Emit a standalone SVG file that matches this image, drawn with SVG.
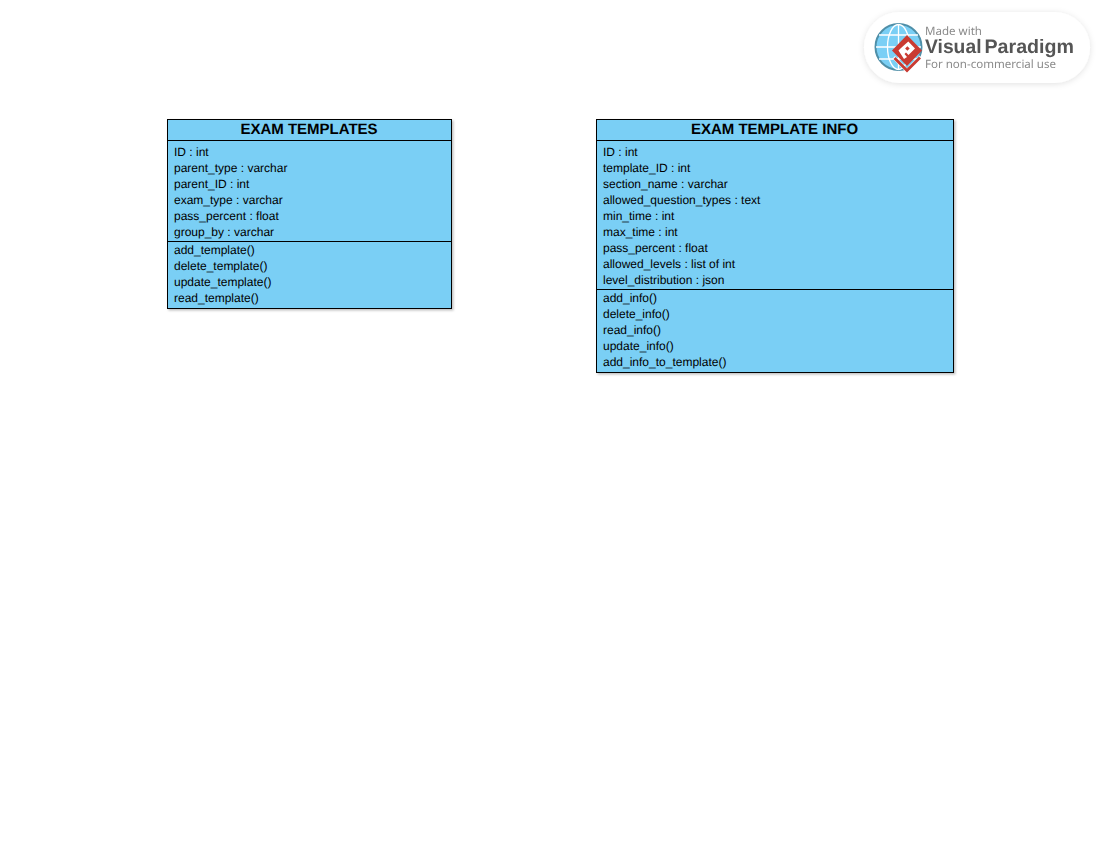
<svg xmlns="http://www.w3.org/2000/svg" width="1106" height="856" viewBox="0 0 1106 856">
<style>
text{font-family:"Liberation Sans",Arial,sans-serif;text-rendering:geometricPrecision}
.b{fill:#7acff5;stroke:#000;stroke-width:1;filter:url(#sh)}
.l{stroke:#000;stroke-width:1;fill:none}
.t{font-size:15px;font-weight:bold;text-anchor:middle;fill:#000}
.m{font-size:12px;fill:#000}
.w{font-family:"Noto Sans","Open Sans",sans-serif}
</style>
<defs>
<filter id="sh" x="-5%" y="-5%" width="110%" height="110%"><feDropShadow dx="1.500" dy="1.500" stdDeviation="1.200" flood-color="#000" flood-opacity=".25"/></filter>
<filter id="ps" x="-10%" y="-20%" width="120%" height="140%"><feDropShadow dx="0" dy="1" stdDeviation="3" flood-color="#000" flood-opacity=".12"/></filter>
<filter id="bl" x="-5%" y="-5%" width="110%" height="110%"><feGaussianBlur stdDeviation=".45"/></filter>
</defs>
<rect width="1106" height="856" fill="#fff"/>
<g id="connectors"/>
<g id="exam-templates">
<rect class="b" x="167.500" y="119.500" width="284" height="189"/>
<path class="l" d="M167.500 140.500H451.500M167.500 241.500H451.500"/>
<text class="t" x="309" y="134">EXAM TEMPLATES</text>
<g class="m">
<text x="174" y="156">ID : int</text>
<text x="174" y="172">parent_type : varchar</text>
<text x="174" y="188">parent_ID : int</text>
<text x="174" y="204">exam_type : varchar</text>
<text x="174" y="220">pass_percent : float</text>
<text x="174" y="236">group_by : varchar</text>
<text x="174" y="254">add_template()</text>
<text x="174" y="270">delete_template()</text>
<text x="174" y="286">update_template()</text>
<text x="174" y="302">read_template()</text>
</g>
</g>
<g id="exam-template-info">
<rect class="b" x="596.500" y="119.500" width="357" height="253"/>
<path class="l" d="M596.500 140.500H953.500M596.500 289.500H953.500"/>
<text class="t" x="774.500" y="134">EXAM TEMPLATE INFO</text>
<g class="m">
<text x="603" y="156">ID : int</text>
<text x="603" y="172">template_ID : int</text>
<text x="603" y="188">section_name : varchar</text>
<text x="603" y="204">allowed_question_types : text</text>
<text x="603" y="220">min_time : int</text>
<text x="603" y="236">max_time : int</text>
<text x="603" y="252">pass_percent : float</text>
<text x="603" y="268">allowed_levels : list of int</text>
<text x="603" y="284">level_distribution : json</text>
<text x="603" y="302">add_info()</text>
<text x="603" y="318">delete_info()</text>
<text x="603" y="334">read_info()</text>
<text x="603" y="350">update_info()</text>
<text x="603" y="366">add_info_to_template()</text>
</g>
</g>
<g id="watermark">
<rect x="864" y="12" width="226" height="71" rx="35.500" fill="#fff" filter="url(#ps)"/>
<g filter="url(#bl)">
<circle cx="898.500" cy="47" r="23" fill="#7acff5" stroke="#4f8fa8" stroke-width="2"/>
<g fill="none" stroke="#fff" stroke-width="1.300">
<ellipse cx="898.500" cy="47" rx="11" ry="22.500"/>
<path d="M898.500 24.500V69.500M876 47H921M879 35H918M879 59H918"/>
</g>
<path d="M892.500 58.500L895 56L907 68L919.500 55.500L922 58L907 73Z" fill="#fff"/>
<path d="M893.500 59L895.500 57L907 68.500L919 56.500L921 58.500L907 72.500Z" fill="#c93a32"/>
<path d="M907 35L922 50.500L907 66L892 50.500Z" fill="#c93a32"/>
<path d="M901 48L908.300 41.500L915 48.500L908.500 55L906 52.500L904.500 54L907 57L904 59L898.500 50.500Z" fill="#fff"/>
<rect x="905.800" y="47" width="3.200" height="3.200" fill="#c93a32" transform="rotate(45 907.400 48.600)"/>
</g>
<g filter="url(#bl)">
<text class="w" x="925" y="34.500" font-size="11.500" fill="#8a8a8a" textLength="57" lengthAdjust="spacingAndGlyphs">Made with</text>
<text x="925" y="53" font-size="19.500" font-weight="700" fill="#555" textLength="56.500" lengthAdjust="spacingAndGlyphs">Visual</text>
<text x="984.500" y="53" font-size="19.500" font-weight="700" fill="#555" textLength="89.500" lengthAdjust="spacingAndGlyphs">Paradigm</text>
<text class="w" x="925" y="68" font-size="11.500" fill="#8a8a8a" textLength="131" lengthAdjust="spacingAndGlyphs">For non-commercial use</text>
</g>
</g>
</svg>
